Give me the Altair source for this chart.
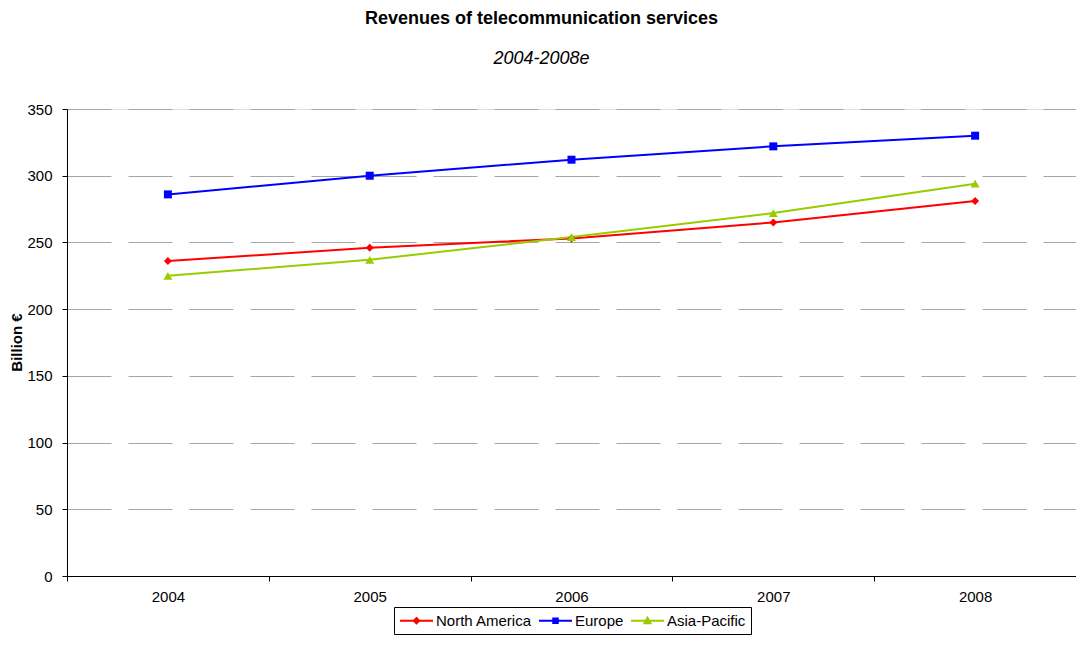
import altair as alt
import pandas as pd

years = ["2004", "2005", "2006", "2007", "2008"]
regions = ["North America", "Europe", "Asia-Pacific"]
north_america = [236, 246, 253, 265, 281]
europe = [286, 300, 312, 322, 330]
asia_pacific = [225, 237, 254, 272, 294]
colors = ["#ff0000", "#0000ff", "#99cc00"]
marker_shapes = ["diamond", "square", "triangle-up"]
marker_sizes = [64, 64, 81]

rows = []
for reg, vals in zip(regions, [north_america, europe, asia_pacific]):
    for y, v in zip(years, vals):
        rows.append({"year": y, "region": reg, "value": v})
df = pd.DataFrame(rows)

FONT = "Liberation Sans"

# legend glyphs: a line segment with the series marker in its middle
legend_paths = [
    "M-1,0L3.4,0M1.2,-0.36L1.56,0L1.2,0.36L0.84,0Z",
    "M-1,0L3.4,0M0.9,-0.3L1.5,-0.3L1.5,0.3L0.9,0.3Z",
    "M-1,0L3.4,0M1.2,-0.4L1.6,0.32L0.8,0.32Z",
]


def make_legend():
    return alt.Legend(
        title=None,
        orient="none",
        legendX=327,
        legendY=498,
        direction="horizontal",
        labelFont=FONT,
        labelFontSize=15,
        labelColor="black",
        labelOffset=20,
        columnPadding=3,
        symbolSize=225,
        symbolStrokeWidth=2,
        symbolOpacity=1,
        padding=5,
        strokeColor="black",
        fillColor="white",
        cornerRadius=0,
    )


def color_scale():
    return alt.Scale(domain=regions, range=colors)


x = alt.X(
    "year:O",
    scale=alt.Scale(type="band", paddingInner=0, paddingOuter=0),
    bandPosition=0.5,
    axis=alt.Axis(
        title=None,
        labelAngle=0,
        tickBand="extent",
        tickSize=5,
        tickColor="black",
        domainColor="black",
        labelFont=FONT,
        labelFontSize=15,
        labelColor="black",
        labelPadding=8,
        grid=False,
    ),
)

y = alt.Y(
    "value:Q",
    scale=alt.Scale(domain=[0, 350], nice=False),
    axis=alt.Axis(
        title="Billion €",
        values=[0, 50, 100, 150, 200, 250, 300, 350],
        tickSize=5,
        tickColor="black",
        domainColor="black",
        labelFont=FONT,
        labelFontSize=15,
        labelColor="black",
        labelPadding=10,
        grid=True,
        gridDash=[44, 17],
        gridColor="#a6a6a6",
        gridWidth=1,
        titleFont=FONT,
        titleFontSize=15,
        titleFontWeight="bold",
        titleColor="black",
        titleAngle=270,
        titleX=-51,
        titleY=233,
        titleAlign="center",
        titleBaseline="middle",
    ),
)

base = alt.Chart(df)

lines = base.mark_line(strokeWidth=2).encode(
    x=x,
    y=y,
    stroke=alt.Stroke("region:N", scale=color_scale(), sort=regions, legend=make_legend()),
    detail="region:N",
)

point_layers = []
for reg, shp, sz in zip(regions, marker_shapes, marker_sizes):
    point_layers.append(
        base.transform_filter(alt.datum.region == reg)
        .mark_point(filled=True, opacity=1, size=sz, shape=shp, strokeWidth=0)
        .encode(
            x=x,
            y=y,
            fill=alt.Fill("region:N", scale=color_scale(), sort=regions, legend=make_legend()),
        )
    )

# invisible layer that only carries the legend (line + marker glyphs)
legend_layer = base.mark_point(filled=True, strokeWidth=2, opacity=0).encode(
    x=x,
    y=y,
    fill=alt.Fill("region:N", scale=color_scale(), sort=regions, legend=make_legend()),
    stroke=alt.Stroke("region:N", scale=color_scale(), sort=regions, legend=make_legend()),
    shape=alt.Shape("region:N", scale=alt.Scale(domain=regions, range=legend_paths),
                    sort=regions, legend=make_legend()),
)

chart = (
    alt.layer(lines, *point_layers, legend_layer)
    .properties(
        width=1009,
        height=467,
        autosize=alt.AutoSizeParams(type="none"),
        padding={"left": 59, "top": 101, "right": 0, "bottom": 60},
        title=alt.TitleParams(
            text="Revenues of telecommunication services",
            subtitle="2004-2008e",
            font=FONT,
            fontSize=18,
            fontWeight="bold",
            color="black",
            subtitleFont=FONT,
            subtitleFontSize=18,
            subtitleFontStyle="italic",
            subtitleColor="black",
            subtitlePadding=22,
            anchor="middle",
            frame="group",
            dx=-30,
            offset=34,
        ),
    )
    .configure_view(stroke="#808080", strokeWidth=1)
    .configure(background="white")
)

chart.save("out.html", embed_options={"renderer": "svg", "actions": False})
